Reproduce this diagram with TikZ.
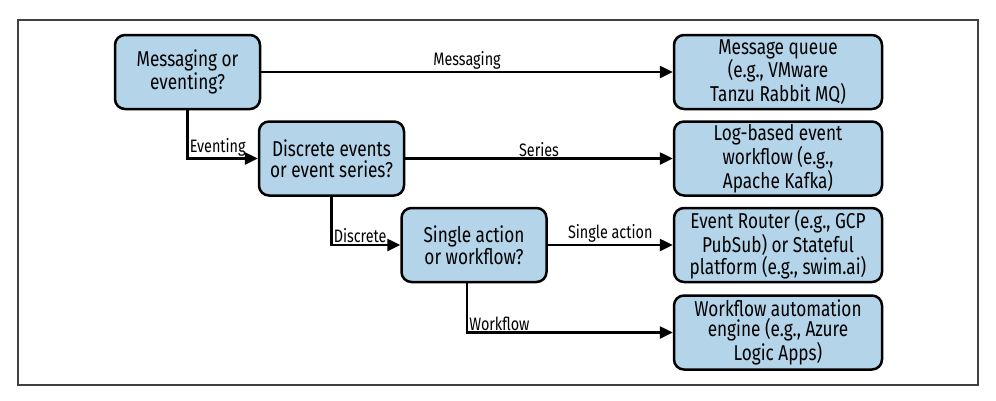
\documentclass[tikz,border=0pt]{standalone}
\usepackage{fontspec}
\setmainfont{Fira Sans}[FakeStretch=0.8]
\usetikzlibrary{arrows.meta}
\definecolor{boxblue}{RGB}{180,212,234}

\tikzset{
  decision/.style={draw, line width=2.5pt, rounded corners=10pt, fill=boxblue,
    minimum width=145pt, minimum height=74pt, inner sep=0pt, align=center,
    font=\fontsize{21.5}{20.5}\selectfont},
  outcome/.style={decision, minimum width=208pt},
  flow/.style={line width=2.5pt, -{Triangle[length=13pt,width=12pt]}},
  edgelabel/.style={font=\fontsize{18}{19}\selectfont, inner sep=1pt}
}

\begin{document}
\begin{tikzpicture}[x=1pt, y=-1pt]
  \useasboundingbox (0,0) rectangle (996,400);
  \draw[line width=1.5pt, black!75] (18,20) rectangle (978,385);

  % questions
  \node[decision] (msgq) at (187.5,72) {Messaging or\\eventing?};
  \node[decision] (series) at (331.5,158.5) {Discrete events\\or event series?};
  \node[decision] (action) at (474,245) {Single action\\or workflow?};

  % answers
  \node[outcome] (queue) at (778,72) {Message queue\\(e.g., VMware\\Tanzu Rabbit MQ)};
  \node[outcome] (kafka) at (778,158.5) {Log-based event\\workflow (e.g.,\\Apache Kafka)};
  \node[outcome] (router) at (778,245) {Event Router (e.g., GCP\\PubSub) or Stateful\\platform (e.g., swim.ai)};
  \node[outcome] (engine) at (778,332.5) {Workflow automation\\engine (e.g., Azure\\Logic Apps)};

  \draw[flow] (msgq) -- node[edgelabel, above] {Messaging} (queue);
  \draw[flow] (msgq.south) |- node[edgelabel, anchor=south west, pos=0.5] {Eventing} (series.west);
  \draw[flow] (series) -- node[edgelabel, above] {Series} (kafka);
  \draw[flow] (series.south) |- node[edgelabel, anchor=south west, pos=0.5] {Discrete} (action.west);
  \draw[flow] (action) -- node[edgelabel, above] {Single action} (router);
  \draw[flow] ([xshift=-7pt]action.south) |- node[edgelabel, anchor=south west, pos=0.5] {Workflow} (engine.west);
\end{tikzpicture}
\end{document}
